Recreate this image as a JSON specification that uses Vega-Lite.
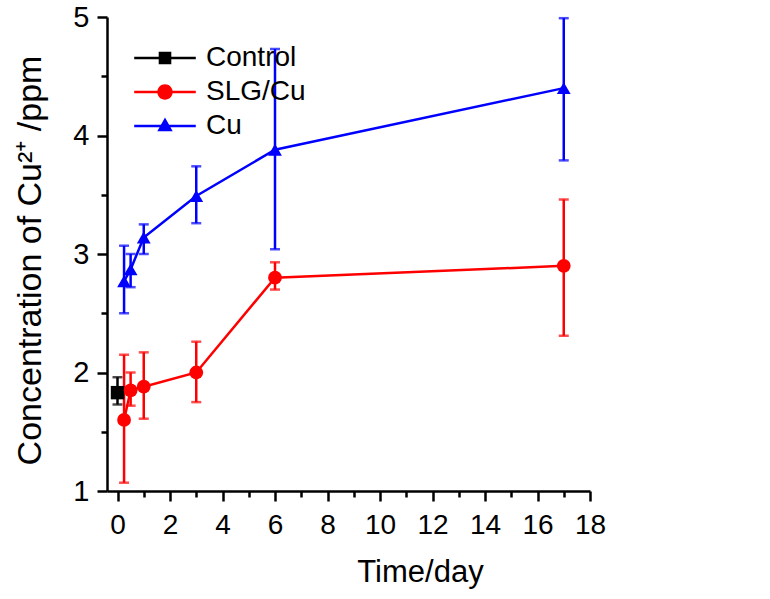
{
  "$schema": "https://vega.github.io/schema/vega-lite/v6.json",
  "width": 483,
  "height": 474,
  "autosize": "none",
  "padding": {"left": 107, "top": 17, "right": 180, "bottom": 108},
  "background": "white",
  "config": {
    "view": {"stroke": null},
    "font": "Liberation Sans"
  },
  "data": {
    "values": [
      {"group": "Control", "time": 0, "value": 1.83, "lo": 1.73, "hi": 1.96},
      {"group": "SLG/Cu", "time": 0.25, "value": 1.6, "lo": 1.07, "hi": 2.15},
      {"group": "SLG/Cu", "time": 0.5, "value": 1.85, "lo": 1.72, "hi": 2.0},
      {"group": "SLG/Cu", "time": 1, "value": 1.88, "lo": 1.61, "hi": 2.17},
      {"group": "SLG/Cu", "time": 3, "value": 2.0, "lo": 1.75, "hi": 2.26},
      {"group": "SLG/Cu", "time": 6, "value": 2.8, "lo": 2.7, "hi": 2.93},
      {"group": "SLG/Cu", "time": 17, "value": 2.9, "lo": 2.31, "hi": 3.46},
      {"group": "Cu", "time": 0.25, "value": 2.77, "lo": 2.5, "hi": 3.07},
      {"group": "Cu", "time": 0.5, "value": 2.87, "lo": 2.72, "hi": 3.0},
      {"group": "Cu", "time": 1, "value": 3.14, "lo": 3.0, "hi": 3.25},
      {"group": "Cu", "time": 3, "value": 3.49, "lo": 3.26, "hi": 3.74},
      {"group": "Cu", "time": 6, "value": 3.88, "lo": 3.04, "hi": 4.73},
      {"group": "Cu", "time": 17, "value": 4.4, "lo": 3.79, "hi": 4.99}
    ]
  },
  "encoding": {
    "x": {
      "field": "time",
      "type": "quantitative",
      "scale": {"domain": [-0.4, 18], "nice": false, "zero": false},
      "axis": {
        "title": "Time/day",
        "grid": false,
        "domainColor": "black",
        "domainWidth": 2.5,
        "tickColor": "black",
        "tickWidth": 2.5,
        "labelColor": "black",
        "labelFont": "Liberation Sans",
        "labelFontSize": 28,
        "titleFont": "Liberation Sans",
        "titleFontSize": 31,
        "titleFontWeight": "normal",
        "titleColor": "black",
        "titleX": 313,
        "values": [0,1,2,3,4,5,6,7,8,9,10,11,12,13,14,15,16,17,18],
        "labelExpr": "datum.value % 2 === 0 ? format(datum.value, 'd') : ''",
        "tickSize": {"condition": {"test": "datum.value % 2 === 0", "value": 10}, "value": 6},
        "labelPadding": 10,
        "titlePadding": 18,
        "labelFlush": false,
        "labelOverlap": false
      }
    },
    "color": {
      "field": "group",
      "type": "nominal",
      "scale": {"domain": ["Control", "SLG/Cu", "Cu"], "range": ["#000000", "#ff0000", "#0000ff"]},
      "legend": {
        "title": null,
        "orient": "none",
        "legendX": 44,
        "legendY": 27,
        "padding": 0,
        "symbolSize": 196,
        "symbolStrokeWidth": 0,
        "symbolOpacity": 1,
        "labelFontSize": 28,
        "labelFont": "Liberation Sans",
        "labelColor": "black",
        "labelOffset": 27,
        "rowPadding": 6
      }
    }
  },
  "layer": [
    {
      "mark": {"type": "errorbar", "ticks": {"size": 10, "thickness": 2.5}, "thickness": 2.5},
      "encoding": {
        "y": {"field": "lo", "type": "quantitative",
          "scale": {"domain": [1, 5], "nice": false, "zero": false},
          "axis": {
            "title": "Concentration of Cu²⁺ /ppm",
            "grid": false,
            "domainColor": "black",
            "domainWidth": 2.5,
            "tickColor": "black",
            "tickWidth": 2.5,
            "labelColor": "black",
            "labelFont": "Liberation Sans",
            "labelFontSize": 29,
            "titleFont": "Liberation Sans",
            "titleFontSize": 34,
            "titleFontWeight": "normal",
            "titleColor": "black",
            "titleX": -77,
            "titleY": 243,
            "titleAngle": -90,
            "titleAlign": "center",
            "titleBaseline": "middle",
            "values": [1,1.5,2,2.5,3,3.5,4,4.5,5],
            "labelExpr": "datum.value % 1 === 0 ? format(datum.value, 'd') : ''",
            "tickSize": {"condition": {"test": "datum.value % 1 === 0", "value": 10}, "value": 6},
            "labelPadding": 8,
            "labelFlush": false,
            "labelOverlap": false
          }
        },
        "y2": {"field": "hi"}
      }
    },
    {
      "mark": {"type": "line", "strokeWidth": 2.5},
      "encoding": {
        "y": {"field": "value", "type": "quantitative"},
        "detail": {"field": "group"}
      }
    },
    {
      "transform": [{"filter": "datum.group === 'Control'"}],
      "mark": {"type": "point", "filled": true, "opacity": 1, "size": 180, "shape": "square"},
      "encoding": {"y": {"field": "value", "type": "quantitative"}}
    },
    {
      "transform": [{"filter": "datum.group === 'SLG/Cu'"}],
      "mark": {"type": "point", "filled": true, "opacity": 1, "size": 190, "shape": "circle"},
      "encoding": {"y": {"field": "value", "type": "quantitative"}}
    },
    {
      "transform": [{"filter": "datum.group === 'Cu'"}],
      "mark": {"type": "point", "filled": true, "opacity": 1, "size": 190, "shape": "triangle-up"},
      "encoding": {"y": {"field": "value", "type": "quantitative"}}
    },
    {
      "mark": {"type": "point", "filled": true, "opacity": 0, "size": 196},
      "encoding": {
        "y": {"field": "value", "type": "quantitative"},
        "shape": {
          "field": "group",
          "type": "nominal",
          "scale": {"domain": ["Control", "SLG/Cu", "Cu"], "range": [
            "M-4.4,-0.18H4.4V0.18H-4.4Z M-0.9,-0.9H0.9V0.9H-0.9Z",
            "M-4.4,-0.18H4.4V0.18H-4.4Z M-1.1,0A1.1,1.1 0 1,1 1.1,0A1.1,1.1 0 1,1 -1.1,0Z",
            "M-4.4,-0.18H4.4V0.18H-4.4Z M0,-1.2L1.1,0.75H-1.1Z"
          ]},
          "legend": {
            "title": null,
            "orient": "none",
            "legendX": 44,
            "legendY": 27,
            "padding": 0,
            "symbolSize": 196,
            "symbolStrokeWidth": 0,
            "symbolOpacity": 1,
            "labelFontSize": 28,
            "labelFont": "Liberation Sans",
            "labelColor": "black",
            "labelOffset": 27,
            "rowPadding": 6
          }
        }
      }
    }
  ]
}
